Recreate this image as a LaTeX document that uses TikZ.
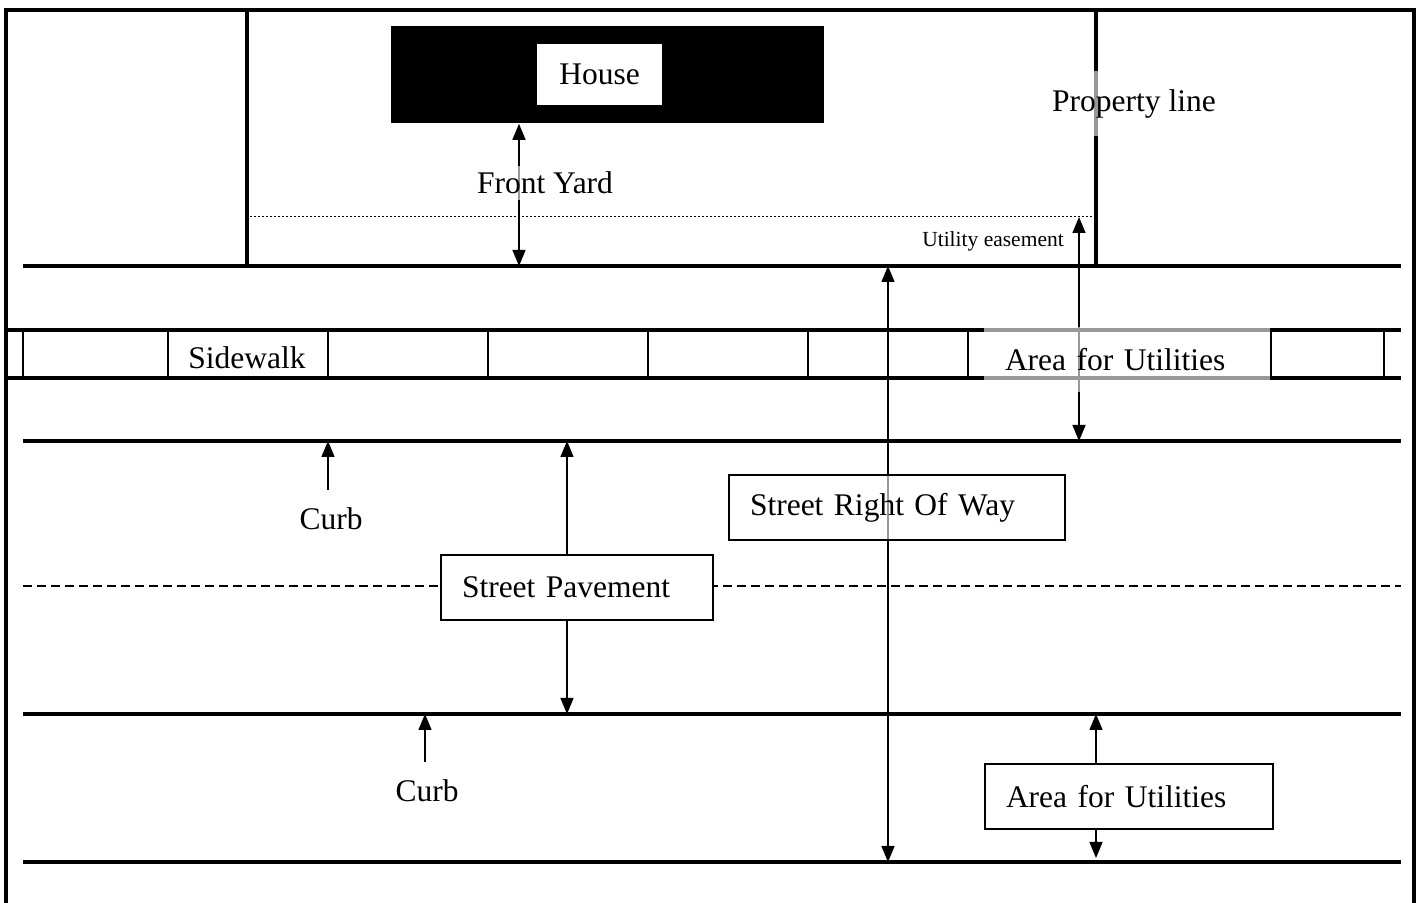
\documentclass[tikz,border=0pt]{standalone}
\usepackage{fontspec}
\setmainfont{Liberation Serif}
\usetikzlibrary{arrows.meta}
\begin{document}
\begin{tikzpicture}[x=0.5pt,y=-0.5pt,
  border/.style={line width=2.25pt},
  road/.style={line width=1.75pt},
  lot/.style={line width=2pt},
  thinline/.style={line width=0.75pt},
  tip/.style={-{Triangle[length=8pt,width=6.5pt]}, line width=0.75pt},
  dtip/.style={{Triangle[length=8pt,width=6.5pt]}-{Triangle[length=8pt,width=6.5pt]}, line width=0.75pt},
  lbl/.style={font=\fontsize{15.75}{18}\selectfont, inner sep=0pt},
  veil/.style={fill=white, fill opacity=0.6, text opacity=1},
  tagbox/.style={draw, line width=1pt, fill=white, font=\fontsize{15.75}{18}\selectfont,
    anchor=north west, inner xsep=10.5pt, inner ysep=0pt, align=left,
    minimum height=32.5pt, text width=#1},
]
\useasboundingbox (0,0) rectangle (1421,903);

% outer frame and lot
\draw[border] (6,903) -- (6,10) -- (1414,10) -- (1414,903);
\draw[lot] (247,10) -- (247,266) -- (1096,266) -- (1096,10);
\draw[line width=0.5pt, dash pattern=on 1pt off 1pt] (250,217) -- (1094,217);

% street lines
\draw[road] (23,266) -- (1401,266);
\draw[road] (8,330) -- (1401,330);
\draw[road] (8,378) -- (1401,378);
\foreach \x in {23,168,328,488,648,808,968,1271,1384}
  \draw[thinline] (\x,330) -- (\x,378);
\draw[road] (23,441) -- (1401,441);
\draw[road] (23,714) -- (1401,714);
\draw[road] (23,862) -- (1401,862);
\draw[line width=1pt, dash pattern=on 4.5pt off 2.5pt] (23,586) -- (1401,586);

% house
\node[fill=black, minimum width=216.5pt, minimum height=48.5pt, inner sep=0pt, anchor=north west] (house) at (391,26) {};
\node[fill=white, lbl, minimum width=62.5pt, minimum height=30.5pt] (houselbl) at (599.5,74.5) {House};

% opaque boxes
\node[tagbox=115pt] (sp) at (440,554) {Street Pavement};
\node[tagbox=123pt] (au2) at (984,763) {Area for Utilities};

% coordinates
\coordinate (fyb) at (519,266);
\coordinate (ueTop) at (1079,217);
\coordinate (ueBot) at (1079,441);
\coordinate (spTop) at (567,441);
\coordinate (spBot) at (567,714);
\coordinate (c1tail) at (328,490);
\coordinate (c1tip) at (328,441);
\coordinate (c2tail) at (425,762);
\coordinate (c2tip) at (425,714);
\coordinate (rowTop) at (888,266);
\coordinate (rowBot) at (888,862);
\coordinate (auTop) at (1096,714);
\coordinate (auBot) at (1096,858);

% arrows
\draw[dtip] (house.south -| fyb) -- (fyb);
\draw[dtip] (ueTop) -- (ueBot);
\draw[tip] (sp.north -| spTop) -- (spTop);
\draw[tip] (sp.south -| spBot) -- (spBot);
\draw[tip] (c1tail) -- (c1tip);
\draw[tip] (c2tail) -- (c2tip);
\draw[dtip] (rowTop) -- (rowBot);
\draw[tip] (au2.north -| auTop) -- (auTop);
\draw[tip] (au2.south -| auBot) -- (auBot);

% labels
\node[lbl, veil, inner ysep=3pt] (fy) at (545,183) {Front Yard};
\node[lbl, veil, minimum height=32.5pt] (pl) at (1134,104) {Property line};
\node[font=\fontsize{10.75}{12}\selectfont, inner sep=0pt] (ue) at (993,241) {Utility easement};
\node[lbl] (sw) at (247,358) {Sidewalk};
\node[tagbox=122pt, draw=none, veil] (au1) at (983,326) {Area for Utilities};
\node[tagbox=147pt, veil] (srow) at (728,474) {Street Right Of Way};
\node[lbl] (curb1) at (331,519) {Curb};
\node[lbl] (curb2) at (427,791) {Curb};
\end{tikzpicture}
\end{document}
